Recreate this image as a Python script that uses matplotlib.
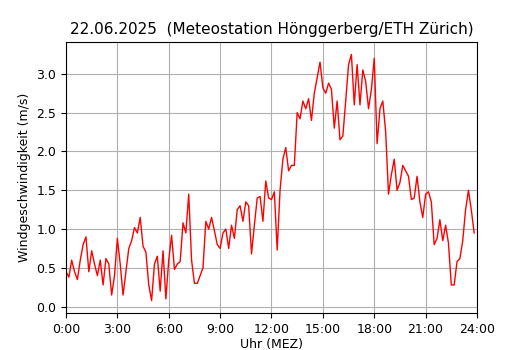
import matplotlib
matplotlib.use("Agg")
import matplotlib.pyplot as plt
import numpy as np

# wind speed (m/s), 10-minute values from 0:00 to 23:50
wind = [0.45, 0.38, 0.6, 0.45, 0.35, 0.6, 0.8, 0.9, 0.45, 0.72, 0.55, 0.4, 0.6, 0.28, 0.62, 0.55, 0.15, 0.4, 0.88,
        0.55, 0.15, 0.45, 0.75, 0.85, 1.02, 0.95, 1.15, 0.78, 0.7, 0.28, 0.08, 0.55, 0.65, 0.2, 0.72, 0.1, 0.6,
        0.92, 0.48, 0.55, 0.58, 1.08, 0.95, 1.45, 0.6, 0.3, 0.3, 0.4, 0.5, 1.1, 1.0, 1.15, 0.98, 0.8, 0.75,
        0.95, 1.0, 0.75, 1.05, 0.88, 1.25, 1.3, 1.1, 1.35, 1.3, 0.68, 1.05, 1.4, 1.42, 1.1, 1.62, 1.4, 1.38,
        1.48, 0.73, 1.5, 1.9, 2.05, 1.75, 1.82, 1.82, 2.5, 2.42, 2.65, 2.55, 2.68, 2.4, 2.75, 2.95, 3.15, 2.82,
        2.75, 2.88, 2.8, 2.3, 2.65, 2.15, 2.2, 2.65, 3.12, 3.25, 2.6, 3.12, 2.6, 3.05, 2.9, 2.55, 2.8, 3.2,
        2.1, 2.55, 2.65, 2.25, 1.45, 1.7, 1.9, 1.5, 1.6, 1.82, 1.75, 1.68, 1.38, 1.4, 1.68, 1.35, 1.15, 1.45,
        1.48, 1.35, 0.8, 0.88, 1.12, 0.85, 1.05, 0.82, 0.28, 0.28, 0.58, 0.62, 0.85, 1.25, 1.5, 1.25, 0.95]
hours = np.arange(len(wind)) / 6.0

hour_ticks = list(range(0, 25, 3))
hour_labels = [f"{h}:00" for h in hour_ticks]

fig = plt.figure(figsize=(5.3, 3.5), dpi=100)
ax = fig.add_axes([0.1245, 0.106, 0.7755, 0.774])
ax.plot(hours, wind, color="red", linewidth=1)

ax.set_xlim(0, 24)
ax.set_ylim(-0.08, 3.41)
ax.set_xticks(hour_ticks)
ax.set_xticklabels(hour_labels)
ax.set_yticks(np.arange(0, 3.01, 0.5))
ax.tick_params(labelsize=9)
ax.grid(True, color="#b0b0b0")

ax.set_title("22.06.2025  (Meteostation Hönggerberg/ETH Zürich)", fontsize=11)
ax.set_xlabel("Uhr (MEZ)", fontsize=9, labelpad=2)
ax.set_ylabel("Windgeschwindigkeit (m/s)", fontsize=9)

fig.savefig("out.png", dpi=100)
